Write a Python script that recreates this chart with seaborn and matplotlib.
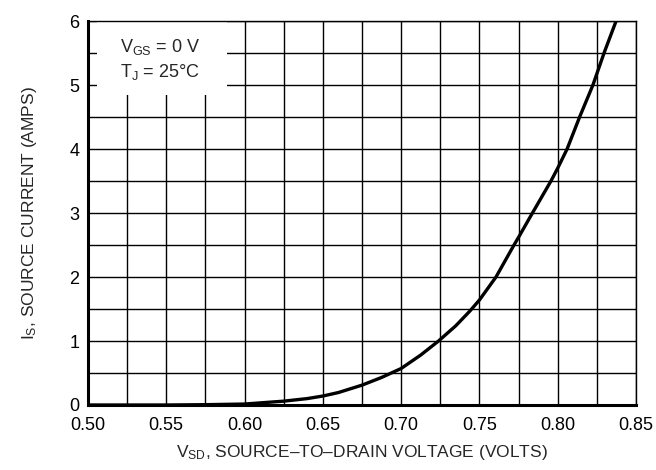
import numpy as np
import pandas as pd
import matplotlib
matplotlib.use("Agg")
import matplotlib.pyplot as plt
import seaborn as sns
from matplotlib.patches import Rectangle
from matplotlib.ticker import MultipleLocator

# 读图得到的曲线数据 (V_SD, I_S)
vsd = [0.50, 0.55, 0.575, 0.60, 0.625, 0.64, 0.65, 0.66, 0.675, 0.6875, 0.70, 0.7125,
       0.7239, 0.735, 0.744, 0.75, 0.7606, 0.7721, 0.775, 0.7806, 0.7834,
       0.7957, 0.80, 0.806, 0.814, 0.8225, 0.8296, 0.8373]
i_s = [0.0, 0.0, 0.005, 0.015, 0.06, 0.1, 0.14, 0.195, 0.31, 0.43, 0.57, 0.78,
       1.0, 1.24, 1.47, 1.64, 2.0, 2.5, 2.62, 2.86, 2.98,
       3.5, 3.7, 4.0, 4.5, 5.0, 5.5, 6.0]

x_ticks = [0.50, 0.55, 0.60, 0.65, 0.70, 0.75, 0.80, 0.85]
x_labels = ["0.50", "0.55", "0.60", "0.65", "0.70", "0.75", "0.80", "0.85"]
y_ticks = [0, 1, 2, 3, 4, 5, 6]

df = pd.DataFrame({"vsd": vsd, "is": i_s})

sns.set_style("white")
plt.rcParams["font.family"] = ["Liberation Sans", "DejaVu Sans"]
plt.rcParams["mathtext.fontset"] = "custom"
plt.rcParams["mathtext.rm"] = "Liberation Sans"
plt.rcParams["mathtext.it"] = "Liberation Sans"

fig = plt.figure(figsize=(6.56, 4.70), dpi=100)
ax = fig.add_axes([0.134, 0.1383, 0.8355, 0.817])

sns.lineplot(data=df, x="vsd", y="is", color="black", linewidth=2.4, ax=ax, zorder=4)

ax.set_xlim(0.50, 0.85)
ax.set_ylim(0, 6)
ax.set_xticks(x_ticks)
ax.set_xticklabels(x_labels)
ax.set_yticks(y_ticks)
ax.xaxis.set_minor_locator(MultipleLocator(0.025))
ax.yaxis.set_minor_locator(MultipleLocator(0.5))
ax.set_axisbelow(True)
ax.grid(which="both", color="black", linewidth=1.0)
ax.tick_params(which="both", length=0)
ax.tick_params(axis="x", pad=9, labelsize=13, colors="black")
ax.tick_params(axis="y", pad=6, labelsize=13, colors="black")

for side in ["left", "bottom"]:
    ax.spines[side].set_linewidth(2.2)
    ax.spines[side].set_color("black")
for side in ["top", "right"]:
    ax.spines[side].set_linewidth(1.0)
    ax.spines[side].set_color("black")
    ax.spines[side].set_visible(True)

ax.set_xlabel(r"V$_{\rm SD}$, SOURCE–TO–DRAIN VOLTAGE (VOLTS)", fontsize=12.5, labelpad=6)
ax.set_ylabel(r"I$_{\rm S}$, SOURCE CURRENT (AMPS)", fontsize=12.5, labelpad=22)

# 条件说明文字框（白底遮住网格）
ax.add_patch(Rectangle((0.5057, 4.84), 0.0831, 1.16, facecolor="white",
                       edgecolor="none", zorder=1))
ax.text(0.5205, 5.6, r"V$_{\rm GS}$ = 0 V", fontsize=13, va="center", ha="left", zorder=3)
ax.text(0.5205, 5.2, r"T$_{\rm J}$ = 25°C", fontsize=13, va="center", ha="left", zorder=3)

plt.savefig("out.png", dpi=100)
